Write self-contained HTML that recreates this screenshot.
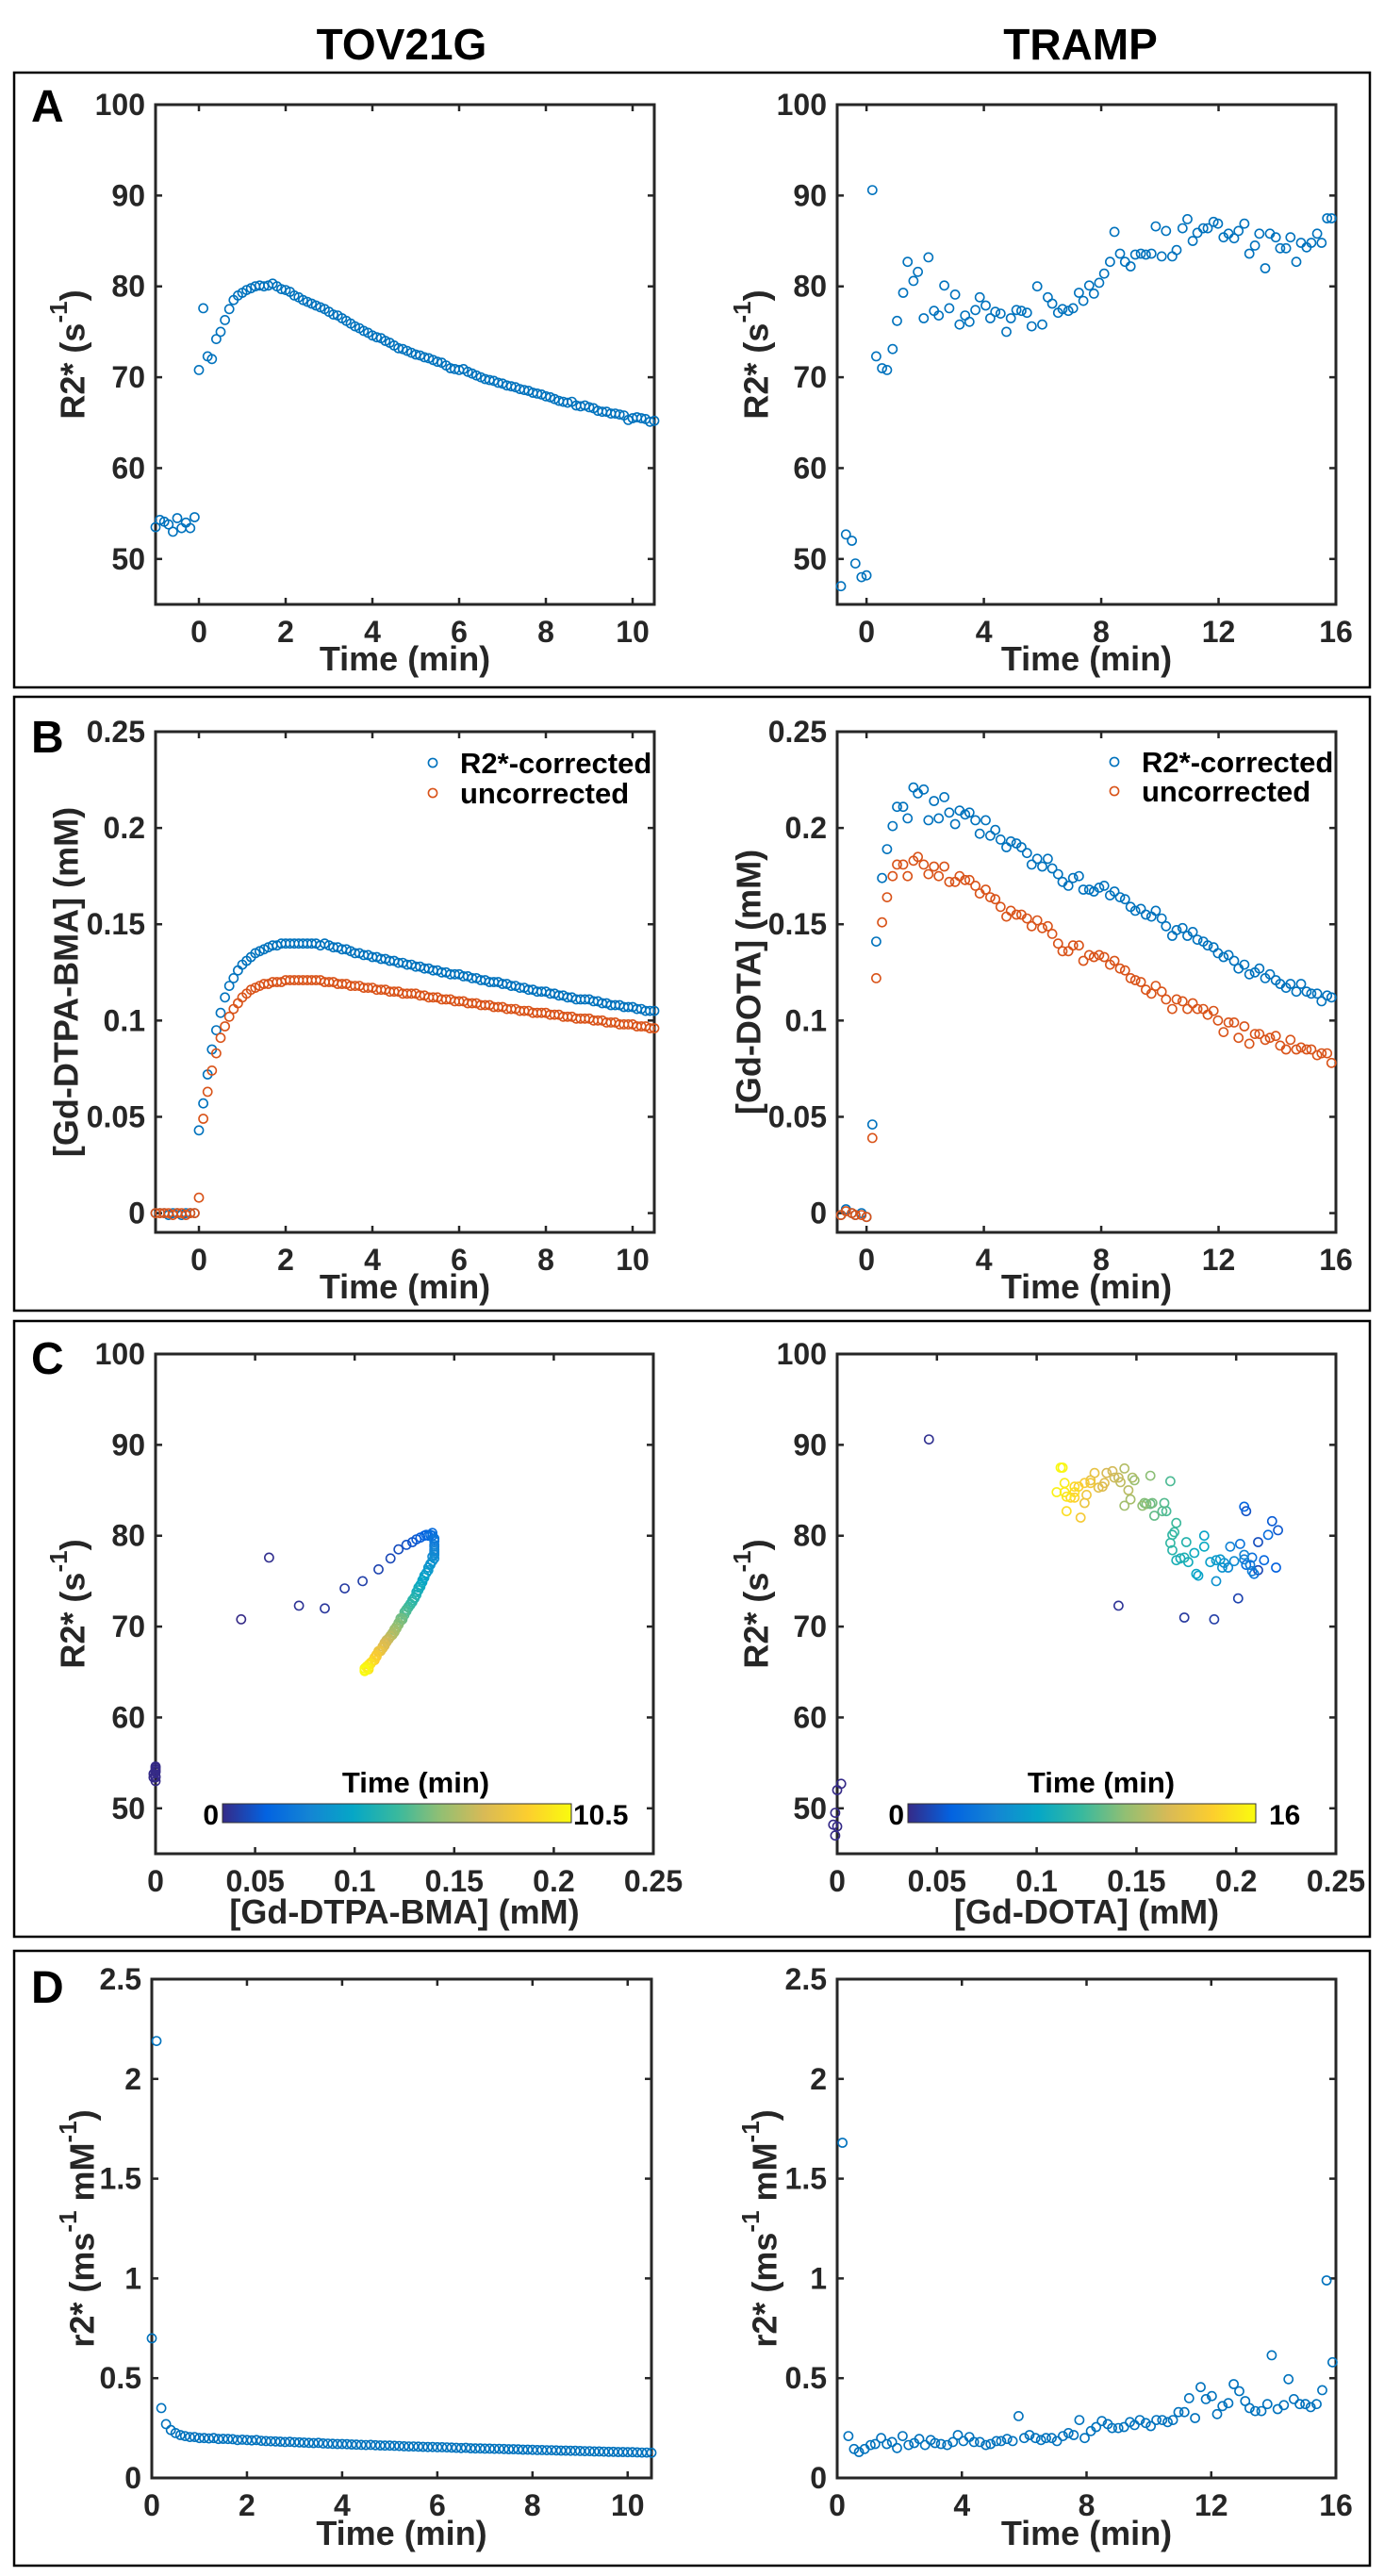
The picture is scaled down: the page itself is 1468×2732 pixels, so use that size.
<!DOCTYPE html>
<html><head><meta charset="utf-8"><style>
html,body{margin:0;padding:0;background:#fff;}
svg{display:block;font-family:"Liberation Sans",Arial,sans-serif;font-weight:bold;}
</style></head><body>
<svg id="fig" width="1468" height="2732" viewBox="0 0 1468 2732" xmlns="http://www.w3.org/2000/svg">
<rect x="0" y="0" width="1468" height="2732" fill="#fff"/>
<defs>
<linearGradient id="parula" x1="0" x2="1" y1="0" y2="0">
<stop offset="0" stop-color="#352A87"/><stop offset="0.125" stop-color="#0363E1"/><stop offset="0.25" stop-color="#1485D4"/><stop offset="0.375" stop-color="#06A7C6"/><stop offset="0.5" stop-color="#38B99E"/><stop offset="0.625" stop-color="#92BF73"/><stop offset="0.75" stop-color="#D9BA56"/><stop offset="0.875" stop-color="#FCCE2E"/><stop offset="1" stop-color="#F9FB0E"/>
</linearGradient>
</defs>
<text x="426" y="63" font-size="46" text-anchor="middle" fill="#000">TOV21G</text>
<text x="1146" y="63" font-size="46" text-anchor="middle" fill="#000">TRAMP</text>
</svg>
<script>
// ---- Data: TOV21G (left column), dense series sampled every 0.1 min ----
const leftTStart = -1.0;
const leftTStep = 0.1;
const leftR2 = [53.5,54.3,54.1,53.8,53.0,54.5,53.4,54.0,53.4,54.6,
70.8,77.6,72.3,72.0,74.2,75.0,76.3,77.5,78.5,79.0,
79.3,79.6,79.8,80.0,80.1,80.0,80.1,80.3,80.0,79.7,
79.6,79.4,79.0,78.8,78.5,78.3,78.1,77.9,77.7,77.5,
77.2,76.9,76.8,76.5,76.2,75.9,75.6,75.4,75.1,74.9,
74.6,74.4,74.3,74.0,73.8,73.5,73.2,73.1,72.9,72.7,
72.5,72.4,72.2,72.1,71.9,71.7,71.6,71.3,71.0,70.9,
70.8,70.9,70.6,70.4,70.2,70.0,69.8,69.7,69.6,69.4,
69.3,69.1,69.0,68.9,68.7,68.6,68.5,68.3,68.2,68.1,
67.9,67.8,67.6,67.4,67.3,67.2,67.3,66.9,66.8,66.9,
66.7,66.6,66.3,66.2,66.2,66.0,66.0,65.9,65.8,65.3,
65.5,65.6,65.5,65.4,65.1,65.2];
const leftCorr = [0,0,0,-0.001,0,0,-0.001,0,0,0,
0.043,0.057,0.072,0.085,0.095,0.104,0.112,0.118,0.122,0.126,
0.129,0.131,0.133,0.135,0.136,0.137,0.138,0.139,0.139,0.140,
0.140,0.140,0.140,0.140,0.140,0.140,0.140,0.140,0.139,0.140,
0.139,0.138,0.138,0.137,0.137,0.136,0.135,0.135,0.134,0.134,
0.133,0.133,0.132,0.132,0.131,0.131,0.130,0.130,0.129,0.129,
0.128,0.128,0.127,0.127,0.126,0.126,0.125,0.125,0.124,0.124,
0.124,0.123,0.123,0.122,0.122,0.121,0.121,0.120,0.120,0.120,
0.119,0.119,0.118,0.118,0.117,0.117,0.116,0.116,0.115,0.115,
0.115,0.114,0.114,0.113,0.113,0.112,0.112,0.111,0.111,0.111,
0.111,0.110,0.110,0.109,0.109,0.108,0.108,0.108,0.107,0.107,
0.107,0.106,0.106,0.105,0.105,0.105];
const leftUncorr = [0,0,0,0,-0.001,0,0,-0.001,0,0,
0.008,0.049,0.063,0.074,0.083,0.091,0.097,0.102,0.106,0.109,
0.112,0.114,0.116,0.117,0.118,0.119,0.119,0.120,0.120,0.120,
0.121,0.121,0.121,0.121,0.121,0.121,0.121,0.121,0.121,0.120,
0.120,0.120,0.119,0.119,0.119,0.118,0.118,0.118,0.117,0.117,
0.117,0.116,0.116,0.116,0.115,0.115,0.115,0.114,0.114,0.114,
0.114,0.113,0.113,0.112,0.112,0.112,0.111,0.111,0.111,0.110,
0.110,0.110,0.109,0.109,0.109,0.108,0.108,0.108,0.107,0.107,
0.107,0.106,0.106,0.106,0.105,0.105,0.105,0.104,0.104,0.104,
0.104,0.103,0.103,0.103,0.102,0.102,0.102,0.101,0.101,0.101,
0.101,0.100,0.100,0.100,0.099,0.099,0.099,0.098,0.098,0.098,
0.098,0.097,0.097,0.097,0.096,0.096];
const leftRelaxTStart = 0.0;
const leftRelax = [0.70,2.19,0.35,0.27,0.24,0.225,0.215,0.21,0.205,0.205,0.20,0.20,0.198,0.20,0.195,0.196,0.195,0.194,0.19,0.192,0.19,0.188,0.19,0.186,0.185,0.184,0.183,0.182,0.18,0.181,0.179,0.178,0.177,0.176,0.175,0.176,0.173,0.172,0.171,0.17,0.17,0.169,0.168,0.167,0.166,0.165,0.166,0.164,0.163,0.162,0.162,0.161,0.16,0.159,0.158,0.158,0.157,0.156,0.155,0.155,0.154,0.154,0.153,0.152,0.151,0.15,0.151,0.149,0.148,0.148,0.147,0.147,0.146,0.146,0.145,0.144,0.144,0.143,0.142,0.142,0.141,0.14,0.14,0.139,0.139,0.138,0.137,0.137,0.136,0.136,0.135,0.134,0.134,0.133,0.133,0.132,0.131,0.131,0.13,0.13,0.129,0.129,0.128,0.127,0.127,0.126];

// ---- Data: TRAMP (right column) ----
const rightTime = [-0.87,-0.7,-0.5,-0.38,-0.17,0,0.2,0.33,0.53,0.7,0.89,1.04,1.25,1.4,1.6,1.75,1.95,2.11,2.3,2.46,2.65,2.82,3.02,3.17,3.36,3.51,3.71,3.86,4.06,4.22,4.39,4.57,4.77,4.92,5.11,5.28,5.47,5.63,5.82,5.99,6.18,6.33,6.53,6.68,6.88,7.04,7.24,7.39,7.59,7.75,7.93,8.1,8.3,8.45,8.64,8.81,9.0,9.16,9.35,9.52,9.71,9.86,10.06,10.21,10.42,10.57,10.77,10.94,11.12,11.28,11.48,11.63,11.83,11.98,12.17,12.34,12.53,12.68,12.88,13.05,13.24,13.39,13.59,13.75,13.95,14.1,14.3,14.45,14.65,14.81,15.0,15.16,15.36,15.51,15.7,15.85];
const rightR2 = [47,52.7,52,49.5,48,48.2,90.6,72.3,71,70.8,73.1,76.2,79.3,82.7,80.6,81.6,76.5,83.2,77.3,76.8,80.1,77.6,79.1,75.8,76.8,76.1,77.4,78.8,77.9,76.5,77.2,77,75,76.5,77.4,77.3,77.1,75.6,80,75.8,78.8,78.1,77.1,77.5,77.3,77.6,79.3,78.4,80.1,79.2,80.4,81.4,82.7,86,83.6,82.7,82.2,83.5,83.6,83.5,83.6,86.6,83.3,86.1,83.3,84,86.4,87.4,85,85.9,86.4,86.4,87.1,86.9,85.4,85.8,85.3,86.1,86.9,83.6,84.5,85.8,82,85.8,85.4,84.2,84.2,85.4,82.7,84.8,84.3,84.8,85.8,84.8,87.5,87.5];
const rightCorr = [-0.001,0.002,0,-0.001,0,-0.002,0.046,0.141,0.174,0.189,0.201,0.211,0.211,0.205,0.221,0.218,0.220,0.204,0.214,0.205,0.216,0.208,0.202,0.209,0.207,0.208,0.204,0.197,0.204,0.196,0.199,0.194,0.190,0.193,0.192,0.190,0.187,0.181,0.184,0.180,0.184,0.179,0.176,0.172,0.170,0.174,0.175,0.168,0.168,0.167,0.169,0.170,0.165,0.167,0.164,0.163,0.159,0.157,0.158,0.155,0.154,0.157,0.153,0.149,0.144,0.147,0.148,0.144,0.146,0.142,0.141,0.139,0.138,0.135,0.133,0.134,0.131,0.127,0.129,0.124,0.125,0.127,0.122,0.124,0.121,0.119,0.117,0.119,0.115,0.119,0.115,0.114,0.114,0.110,0.113,0.112];
const rightUncorr = [-0.001,0.001,0,-0.001,-0.001,-0.002,0.039,0.122,0.151,0.164,0.175,0.181,0.181,0.175,0.183,0.185,0.181,0.176,0.180,0.175,0.180,0.172,0.172,0.175,0.173,0.173,0.170,0.166,0.168,0.164,0.163,0.159,0.154,0.157,0.155,0.155,0.153,0.149,0.152,0.148,0.149,0.145,0.140,0.136,0.136,0.139,0.139,0.131,0.134,0.133,0.134,0.133,0.129,0.131,0.127,0.126,0.122,0.121,0.120,0.116,0.114,0.118,0.115,0.111,0.106,0.111,0.110,0.106,0.109,0.106,0.106,0.103,0.105,0.100,0.094,0.099,0.099,0.091,0.097,0.088,0.093,0.093,0.090,0.091,0.092,0.087,0.085,0.090,0.085,0.086,0.085,0.085,0.082,0.083,0.083,0.078];
const rightRelaxTime = [0.17,0.36,0.54,0.7,0.88,1.07,1.22,1.41,1.59,1.76,1.92,2.1,2.29,2.47,2.63,2.82,3.0,3.14,3.33,3.53,3.71,3.87,4.05,4.24,4.39,4.58,4.77,4.92,5.11,5.26,5.45,5.63,5.82,6.0,6.17,6.36,6.54,6.7,6.88,7.05,7.24,7.42,7.59,7.77,7.94,8.14,8.31,8.49,8.68,8.82,9.02,9.2,9.39,9.54,9.71,9.9,10.06,10.24,10.43,10.6,10.77,10.95,11.14,11.29,11.48,11.66,11.83,12.02,12.19,12.36,12.55,12.72,12.9,13.09,13.23,13.41,13.61,13.8,13.94,14.13,14.33,14.48,14.65,14.84,15.02,15.19,15.38,15.56,15.7,15.89];
const rightRelax = [1.68,0.21,0.145,0.13,0.145,0.165,0.17,0.20,0.17,0.18,0.15,0.21,0.165,0.175,0.195,0.165,0.19,0.175,0.17,0.165,0.18,0.215,0.185,0.205,0.18,0.18,0.165,0.17,0.185,0.185,0.195,0.185,0.31,0.20,0.215,0.20,0.19,0.20,0.20,0.185,0.21,0.225,0.215,0.29,0.20,0.235,0.255,0.285,0.27,0.25,0.25,0.255,0.28,0.265,0.29,0.275,0.26,0.29,0.29,0.28,0.29,0.33,0.33,0.40,0.30,0.455,0.395,0.41,0.32,0.36,0.375,0.47,0.435,0.385,0.35,0.335,0.335,0.37,0.615,0.345,0.365,0.495,0.395,0.37,0.37,0.355,0.37,0.44,0.99,0.58];

// ---- Axis tick definitions ----
const ticksR2 = [50,60,70,80,90,100];
const ticksConc = [0,0.05,0.1,0.15,0.2,0.25];
const ticksConcLabels = ["0","0.05","0.1","0.15","0.2","0.25"];
const ticksRelax = [0,0.5,1,1.5,2,2.5];
const ticksRelaxLabels = ["0","0.5","1","1.5","2","2.5"];
const ticksTimeLeft = [0,2,4,6,8,10];
const ticksTimeRight = [0,4,8,12,16];

const BLUE = "#0072BD", ORANGE = "#D95319", AX = "#262626";
const NS = "http://www.w3.org/2000/svg";
const svg = document.getElementById('fig');

function mk(tag, attrs, parent){
  const e = document.createElementNS(NS, tag);
  for (const k in attrs) e.setAttribute(k, attrs[k]);
  (parent||svg).appendChild(e);
  return e;
}
const parulaStops = [[53,42,135],[3,99,225],[20,133,212],[6,167,198],[56,185,158],[146,191,115],[217,186,86],[252,206,46],[249,251,14]];
function parula(f){
  f = Math.max(0, Math.min(1, f));
  const p = f*(parulaStops.length-1), i = Math.min(Math.floor(p), parulaStops.length-2), r = p - i;
  const a = parulaStops[i], b = parulaStops[i+1];
  return 'rgb(' + [0,1,2].map(k => Math.round(a[k]+(b[k]-a[k])*r)).join(',') + ')';
}

function makeAxes(name, x0, x1, y0, y1, xmin, xmax, ymin, ymax){
  const g = mk('g', {});
  
  
  const sx = v => x0 + (v - xmin) / (xmax - xmin) * (x1 - x0);
  const sy = v => y1 - (v - ymin) / (ymax - ymin) * (y1 - y0);
  return {g, sx, sy, x0, x1, y0, y1};
}
function drawFrame(ax, xt, xl, yt, yl){
  const f = mk('g', {}, ax.g);
  
  
  xt.forEach((v, i) => {
    const x = ax.sx(v);
    mk('line', {x1:x, x2:x, y1:ax.y1, y2:ax.y1-7, stroke:AX, 'stroke-width':2.5}, f);
    mk('line', {x1:x, x2:x, y1:ax.y0, y2:ax.y0+7, stroke:AX, 'stroke-width':2.5}, f);
    const t = mk('text', {x:x, y:ax.y1+40, 'font-size':32, 'text-anchor':'middle', fill:AX}, f);
    
    
    t.textContent = xl[i];
  });
  yt.forEach((v, i) => {
    const y = ax.sy(v);
    mk('line', {x1:ax.x0, x2:ax.x0+7, y1:y, y2:y, stroke:AX, 'stroke-width':2.5}, f);
    mk('line', {x1:ax.x1, x2:ax.x1-7, y1:y, y2:y, stroke:AX, 'stroke-width':2.5}, f);
    const t = mk('text', {x:ax.x0-11, y:y+11, 'font-size':32, 'text-anchor':'end', fill:AX}, f);
    
    
    t.textContent = yl[i];
  });
  mk('rect', {x:ax.x0, y:ax.y0, width:ax.x1-ax.x0, height:ax.y1-ax.y0, fill:'none', stroke:AX, 'stroke-width':3}, f);
}
function xLabel(ax, y, html){
  const t = mk('text', {x:(ax.x0+ax.x1)/2, y:y, 'font-size':36, 'text-anchor':'middle', fill:AX}, ax.g);
  
  
  t.innerHTML = html;
}
function yLabel(ax, x, html){
  const cy = (ax.y0+ax.y1)/2;
  const t = mk('text', {x:x, y:cy, 'font-size':36, 'text-anchor':'middle', 'dominant-baseline':'central', fill:AX, transform:'rotate(-90 '+x+' '+cy+')'}, ax.g);
  
  
  t.innerHTML = html;
}
function pt(ax, x, y, color, name){
  const c = mk('circle', {cx:ax.sx(x).toFixed(1), cy:ax.sy(y).toFixed(1), r:4.6, fill:'none', stroke:color, 'stroke-width':1.6}, ax.g);
  
  
}
const leftTimes = leftR2.map((_, i) => leftTStart + i*leftTStep);
const SUP = '<tspan baseline-shift="super" font-size="26">-1</tspan>';

// Panel boxes
const boxTops = [77, 739, 1401, 2069], boxBots = [729, 1390, 2054, 2721];
const letters = ['A','B','C','D'], letterY = [129, 798, 1457, 2124];
boxTops.forEach((t, i) => {
  const r = mk('rect', {x:15, y:t, width:1438, height:boxBots[i]-t, fill:'none', stroke:'#000', 'stroke-width':2.5});
  
  
  const l = mk('text', {x:33, y:letterY[i], 'font-size':48, fill:'#000'});
  
  
  l.textContent = letters[i];
});

// ---- Panel A ----
let ax = makeAxes('chart-a-tov21g', 165, 694, 111, 641, -1, 10.5, 45, 100);
drawFrame(ax, ticksTimeLeft, ticksTimeLeft.map(String), ticksR2, ticksR2.map(String));
leftR2.forEach((v, i) => pt(ax, leftTimes[i], v, BLUE, 'r2-point'));
xLabel(ax, 711, 'Time (min)'); yLabel(ax, 77, 'R2* (s' + SUP + ')');

ax = makeAxes('chart-a-tramp', 888, 1417, 111, 641, -1, 16, 45, 100);
drawFrame(ax, ticksTimeRight, ticksTimeRight.map(String), ticksR2, ticksR2.map(String));
rightR2.forEach((v, i) => pt(ax, rightTime[i], v, BLUE, 'r2-point'));
xLabel(ax, 711, 'Time (min)'); yLabel(ax, 802, 'R2* (s' + SUP + ')');

// ---- Panel B ----
function legend(ax, mx, tx, y1, y2){
  const g = mk('g', {}, ax.g);
  
  
  [[y1, BLUE, 'R2*-corrected'], [y2, ORANGE, 'uncorrected']].forEach(e => {
    mk('circle', {cx:mx, cy:e[0], r:4.6, fill:'none', stroke:e[1], 'stroke-width':1.6}, g);
    const t = mk('text', {x:tx, y:e[0]+11, 'font-size':31, fill:'#000'}, g);
    
    
    t.textContent = e[2];
  });
}
ax = makeAxes('chart-b-tov21g', 165, 694, 776, 1307, -1, 10.5, -0.01, 0.25);
drawFrame(ax, ticksTimeLeft, ticksTimeLeft.map(String), ticksConc, ticksConcLabels);
leftCorr.forEach((v, i) => pt(ax, leftTimes[i], v, BLUE, 'corrected-point'));
leftUncorr.forEach((v, i) => pt(ax, leftTimes[i], v, ORANGE, 'uncorrected-point'));
legend(ax, 459, 488, 809, 841);
xLabel(ax, 1377, 'Time (min)'); yLabel(ax, 70, '[Gd-DTPA-BMA] (mM)');

ax = makeAxes('chart-b-tramp', 888, 1417, 776, 1307, -1, 16, -0.01, 0.25);
drawFrame(ax, ticksTimeRight, ticksTimeRight.map(String), ticksConc, ticksConcLabels);
rightCorr.forEach((v, i) => pt(ax, rightTime[i], v, BLUE, 'corrected-point'));
rightUncorr.forEach((v, i) => pt(ax, rightTime[i], v, ORANGE, 'uncorrected-point'));
legend(ax, 1182, 1211, 808, 839);
xLabel(ax, 1377, 'Time (min)'); yLabel(ax, 794, '[Gd-DOTA] (mM)');

// ---- Panel C ----
function colorbar(ax, x0, x1, maxLabel, maxX, titleX){
  const g = mk('g', {}, ax.g);
  
  
  mk('rect', {x:x0, y:1913, width:x1-x0, height:20, fill:'url(#parula)', stroke:'#333', 'stroke-width':1}, g);
  const t0 = mk('text', {x:x0-4, y:1935, 'font-size':30, 'text-anchor':'end', fill:'#000'}, g);
  
  
  t0.textContent = '0';
  const t1 = mk('text', {x:maxX, y:1935, 'font-size':30, fill:'#000'}, g);
  
  
  t1.textContent = maxLabel;
  const tt = mk('text', {x:titleX, y:1901, 'font-size':31, 'text-anchor':'middle', fill:'#000'}, g);
  
  
  tt.textContent = 'Time (min)';
}
ax = makeAxes('chart-c-tov21g', 165, 693, 1436, 1966, 0, 0.25, 45, 100);
drawFrame(ax, ticksConc, ticksConcLabels, ticksR2, ticksR2.map(String));
colorbar(ax, 236, 606, '10.5', 608, 441);
leftR2.forEach((v, i) => {
  const n = Math.min(leftR2.length, leftCorr.length);
  if (i < n) pt(ax, leftCorr[i], v, parula(leftTimes[i] / 10.5), 'scatter-point');
});
xLabel(ax, 2040, '[Gd-DTPA-BMA] (mM)'); yLabel(ax, 77, 'R2* (s' + SUP + ')');

ax = makeAxes('chart-c-tramp', 888, 1417, 1436, 1966, 0, 0.25, 45, 100);
drawFrame(ax, ticksConc, ticksConcLabels, ticksR2, ticksR2.map(String));
colorbar(ax, 963, 1332, '16', 1346, 1168);
rightR2.forEach((v, i) => {
  if (i < rightCorr.length) pt(ax, rightCorr[i], v, parula(rightTime[i] / 16), 'scatter-point');
});
xLabel(ax, 2040, '[Gd-DOTA] (mM)'); yLabel(ax, 802, 'R2* (s' + SUP + ')');

// ---- Panel D ----
const SUPm = '<tspan baseline-shift="super" font-size="26">-1</tspan>';
ax = makeAxes('chart-d-tov21g', 161, 691, 2099, 2628, 0, 10.5, 0, 2.5);
drawFrame(ax, ticksTimeLeft, ticksTimeLeft.map(String), ticksRelax, ticksRelaxLabels);
leftRelax.forEach((v, i) => pt(ax, leftRelaxTStart + i*leftTStep, v, BLUE, 'relaxivity-point'));
xLabel(ax, 2699, 'Time (min)'); yLabel(ax, 87, 'r2* (ms' + SUPm + ' mM' + SUPm + ')');

ax = makeAxes('chart-d-tramp', 888, 1417, 2099, 2628, 0, 16, 0, 2.5);
drawFrame(ax, ticksTimeRight, ticksTimeRight.map(String), ticksRelax, ticksRelaxLabels);
rightRelax.forEach((v, i) => pt(ax, rightRelaxTime[i], v, BLUE, 'relaxivity-point'));
xLabel(ax, 2699, 'Time (min)'); yLabel(ax, 811, 'r2* (ms' + SUPm + ' mM' + SUPm + ')');
</script>
</body></html>
